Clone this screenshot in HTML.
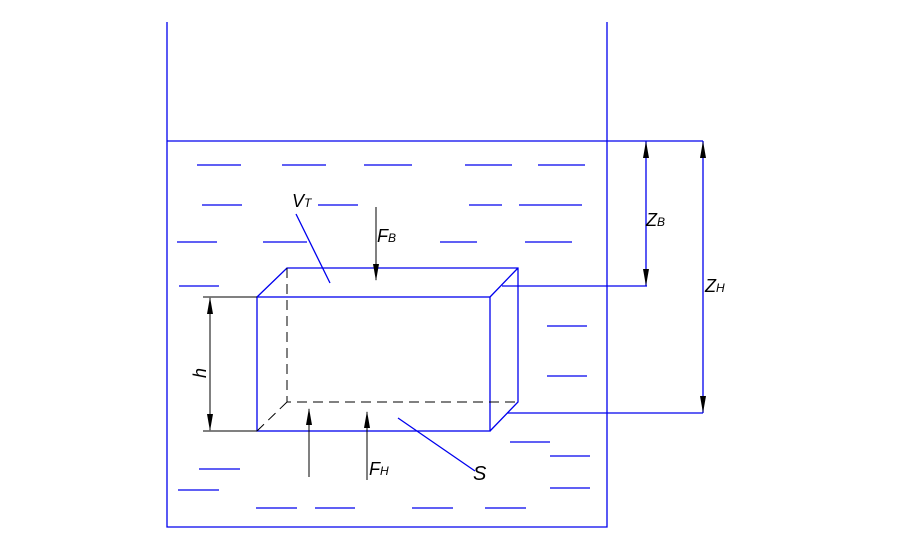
<!DOCTYPE html>
<html><head><style>body{margin:0;background:#fff}svg{display:block}text{font-family:"Liberation Sans",sans-serif;font-style:italic;fill:#000}</style></head><body>
<svg width="918" height="544" viewBox="0 0 918 544" xmlns="http://www.w3.org/2000/svg">
<g stroke="#0000ee" stroke-width="1.3" fill="none">
<path d="M167,22V527H607V22"/>
<path d="M167,141H703"/>
<rect x="257" y="297" width="233" height="134"/>
<path d="M257,297L287,268H518V402L490,431M490,297L518,268"/>
<path d="M502,286H647M507,413H703"/>
<path d="M646,141V286M703,141V413"/>
<path d="M296,214L330,283M398,418L475,471"/>
<path d="M197,165h44M282,165h44M364,165h48M465,165h47M538,165h47M202,205h40M318,205h40M469,205h33M519,205h63M177,242h40M263,242h44M440,242h37M525,242h47M179,286h40M547,326h40M547,376h40M510,442h40M550,456h40M550,488h40M199,469h41M178,490h41M256,508h41M315,508h40M412,508h41M485,508h41"/>
</g>
<g stroke="#000" stroke-width="1" fill="none">
<path d="M287,268V402H518" stroke-dasharray="10,6"/>
<path d="M287,402L257,431" stroke-dasharray="10,6"/>
<path d="M203,297H257M203,431H257"/>
<path d="M210,298V430"/>
<path d="M376,207V280"/>
<path d="M309,477V409"/>
<path d="M367,480V412"/>
</g>
<g fill="#000">
<path d="M207,314L213,314L210,297Z"/>
<path d="M207,414L213,414L210,431Z"/>
<path d="M373,264L379,264L376,281Z"/>
<path d="M306,425L312,425L309,408Z"/>
<path d="M364,428L370,428L367,411Z"/>
<path d="M643,158L649,158L646,141Z"/>
<path d="M643,269L649,269L646,286Z"/>
<path d="M700,158L706,158L703,141Z"/>
<path d="M700,396L706,396L703,413Z"/>
</g>
<text x="292" y="207" font-size="18">V<tspan font-size="12">T</tspan></text>
<text x="377" y="242" font-size="18">F<tspan font-size="12">B</tspan></text>
<text x="369" y="475" font-size="18">F<tspan font-size="12">H</tspan></text>
<text x="473" y="480" font-size="20">S</text>
<text x="646" y="226" font-size="18">Z<tspan font-size="12">B</tspan></text>
<text x="705" y="292" font-size="18">Z<tspan font-size="12">H</tspan></text>
<text transform="translate(206,378) rotate(-90)" font-size="18">h</text>
</svg>
</body></html>
